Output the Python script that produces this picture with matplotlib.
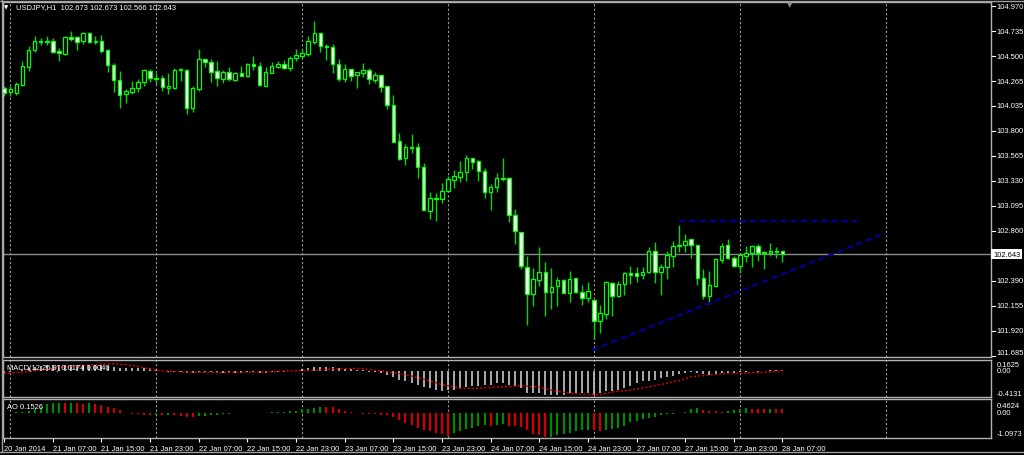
import matplotlib
matplotlib.use("Agg")
import matplotlib.pyplot as plt
import numpy as np
from matplotlib.lines import Line2D
from matplotlib.transforms import blended_transform_factory

plt.rcParams["font.family"] = ["Liberation Sans", "DejaVu Sans"]

# USDJPY H1, 20 Jan 23:00 .. 28 Jan 07:00 (one entry per bar)
opens = [
    104.20, 104.17, 104.16, 104.23, 104.40, 104.56, 104.64, 104.65, 104.65, 104.55,
    104.52, 104.68, 104.68, 104.65, 104.72, 104.64, 104.65, 104.56, 104.42, 104.28,
    104.15, 104.17, 104.20, 104.26, 104.36, 104.30, 104.30, 104.20, 104.20, 104.37,
    104.37, 104.02, 104.19, 104.48, 104.45, 104.36, 104.29, 104.35, 104.28, 104.34,
    104.32, 104.43, 104.41, 104.22, 104.34, 104.40, 104.43, 104.39, 104.49, 104.50,
    104.52, 104.64, 104.72, 104.60, 104.59, 104.43, 104.29, 104.38, 104.33, 104.34,
    104.37, 104.28, 104.33, 104.22, 104.04, 103.71, 103.55, 103.65, 103.65, 103.46,
    103.05, 103.17, 103.16, 103.24, 103.34, 103.37, 103.41, 103.55, 103.52, 103.42,
    103.23, 103.27, 103.36, 103.36, 103.01, 102.85, 102.52, 102.27, 102.40, 102.47,
    102.29, 102.34, 102.40, 102.28, 102.42, 102.29, 102.23, 102.21, 102.01, 102.08,
    102.37, 102.25, 102.36, 102.46, 102.46, 102.45, 102.47, 102.67, 102.47, 102.52,
    102.62, 102.72, 102.73, 102.78, 102.73, 102.42, 102.25, 102.34, 102.59, 102.73,
    102.61, 102.53, 102.62, 102.65, 102.72, 102.65, 102.65, 102.67, 102.673,
]
highs = [
    104.22, 104.22, 104.26, 104.46, 104.60, 104.69, 104.67, 104.69, 104.67, 104.58,
    104.69, 104.74, 104.69, 104.73, 104.73, 104.69, 104.70, 104.57, 104.44, 104.36,
    104.19, 104.27, 104.29, 104.38, 104.38, 104.34, 104.33, 104.34, 104.39, 104.39,
    104.38, 104.22, 104.57, 104.48, 104.48, 104.46, 104.37, 104.40, 104.35, 104.41,
    104.44, 104.50, 104.45, 104.40, 104.45, 104.46, 104.47, 104.50, 104.57, 104.57,
    104.69, 104.83, 104.73, 104.62, 104.62, 104.48, 104.43, 104.38, 104.35, 104.44,
    104.39, 104.35, 104.33, 104.22, 104.14, 103.78, 103.68, 103.77, 103.69, 103.50,
    103.23, 103.22, 103.31, 103.38, 103.43, 103.52, 103.57, 103.55, 103.53, 103.45,
    103.30, 103.40, 103.55, 103.37, 103.07, 102.85, 102.62, 102.51, 102.71, 102.57,
    102.51, 102.43, 102.41, 102.48, 102.42, 102.35, 102.38, 102.22, 102.16, 102.39,
    102.38, 102.39, 102.47, 102.53, 102.52, 102.52, 102.71, 102.76, 102.55, 102.67,
    102.77, 102.92, 102.83, 102.78, 102.73, 102.50, 102.48, 102.61, 102.75, 102.78,
    102.62, 102.64, 102.72, 102.73, 102.74, 102.67, 102.75, 102.71, 102.673,
]
lows = [
    104.13, 104.13, 104.14, 104.22, 104.36, 104.54, 104.61, 104.61, 104.53, 104.46,
    104.51, 104.65, 104.56, 104.62, 104.63, 104.62, 104.53, 104.35, 104.17, 104.02,
    104.06, 104.15, 104.17, 104.22, 104.26, 104.24, 104.18, 104.15, 104.19, 104.27,
    103.96, 103.98, 104.18, 104.40, 104.26, 104.22, 104.25, 104.27, 104.27, 104.32,
    104.31, 104.37, 104.22, 104.22, 104.34, 104.39, 104.38, 104.36, 104.46, 104.49,
    104.50, 104.62, 104.54, 104.47, 104.34, 104.27, 104.26, 104.27, 104.20, 104.31,
    104.24, 104.25, 104.17, 104.01, 103.70, 103.53, 103.48, 103.59, 103.36, 103.06,
    102.97, 102.95, 103.12, 103.23, 103.26, 103.32, 103.33, 103.44, 103.33, 103.17,
    103.06, 103.23, 103.33, 102.94, 102.74, 102.50, 101.98, 102.15, 102.34, 102.06,
    102.13, 102.15, 102.28, 102.19, 102.28, 102.16, 102.19, 101.84, 101.90, 102.03,
    102.06, 102.24, 102.26, 102.36, 102.38, 102.41, 102.46, 102.37, 102.26, 102.41,
    102.52, 102.66, 102.66, 102.61, 102.35, 102.22, 102.17, 102.33, 102.56, 102.60,
    102.52, 102.46, 102.57, 102.52, 102.58, 102.50, 102.62, 102.61, 102.566,
]
closes = [
    104.16, 104.19, 104.24, 104.41, 104.56, 104.65, 104.65, 104.64, 104.54, 104.53,
    104.68, 104.66, 104.64, 104.72, 104.64, 104.65, 104.55, 104.42, 104.28, 104.14,
    104.18, 104.20, 104.26, 104.37, 104.30, 104.29, 104.21, 104.22, 104.37, 104.38,
    104.02, 104.20, 104.48, 104.45, 104.35, 104.30, 104.35, 104.29, 104.34, 104.32,
    104.43, 104.41, 104.23, 104.35, 104.41, 104.43, 104.39, 104.49, 104.51, 104.53,
    104.65, 104.72, 104.60, 104.59, 104.43, 104.29, 104.38, 104.32, 104.35, 104.37,
    104.29, 104.33, 104.21, 104.04, 103.70, 103.54, 103.65, 103.64, 103.46, 103.06,
    103.17, 103.16, 103.24, 103.35, 103.38, 103.41, 103.55, 103.51, 103.42, 103.23,
    103.27, 103.36, 103.35, 103.01, 102.86, 102.53, 102.27, 102.41, 102.47, 102.29,
    102.33, 102.40, 102.28, 102.41, 102.29, 102.23, 102.30, 102.01, 102.09, 102.38,
    102.25, 102.36, 102.46, 102.45, 102.44, 102.47, 102.67, 102.47, 102.52, 102.63,
    102.72, 102.73, 102.77, 102.73, 102.42, 102.25, 102.35, 102.60, 102.72, 102.61,
    102.53, 102.63, 102.65, 102.72, 102.65, 102.66, 102.67, 102.66, 102.643,
]

# MACD(12,26,9) main values, one per bar
macd = [
    -0.03, -0.02, 0.00, 0.02, 0.04, 0.06, 0.08, 0.09, 0.10, 0.10,
    0.10, 0.10, 0.10, 0.10, 0.10, 0.10, 0.09, 0.08, 0.07, 0.05,
    0.04, 0.04, 0.04, 0.05, 0.04, 0.02, 0.00, -0.01, -0.01, -0.01,
    -0.03, -0.03, -0.01, -0.01, -0.02, -0.03, -0.03, -0.03, -0.03, -0.03,
    -0.02, -0.02, -0.03, -0.03, -0.02, -0.01, -0.01, 0.00, 0.01, 0.03,
    0.04, 0.07, 0.07, 0.07, 0.06, 0.04, 0.03, 0.03, 0.02, 0.01,
    -0.01, -0.02, -0.03, -0.06, -0.10, -0.14, -0.16, -0.20, -0.23, -0.26,
    -0.28, -0.30, -0.32, -0.30, -0.30, -0.28, -0.26, -0.25, -0.24, -0.23,
    -0.22, -0.20, -0.20, -0.22, -0.24, -0.28, -0.35, -0.36, -0.36, -0.39,
    -0.39, -0.39, -0.38, -0.36, -0.36, -0.35, -0.35, -0.39, -0.35, -0.33,
    -0.32, -0.30, -0.27, -0.24, -0.20, -0.17, -0.16, -0.14, -0.12, -0.10,
    -0.08, -0.05, -0.03, -0.026, -0.04, -0.05, -0.067, -0.05, -0.03, -0.03,
    -0.03, -0.02, -0.01, 0.00, -0.01, 0.00, 0.01, 0.01, 0.0174,
]
# signal line, read at a subset of bars
signal_idx = [0, 4, 8, 12, 16, 18, 20, 22, 24, 26, 30, 36, 42, 47, 50, 53, 56, 59,
              61, 64, 67, 70, 72, 75, 78, 81, 85, 88, 90, 93, 96, 98, 100, 103,
              105, 108, 111, 113, 116, 119, 123, 126, 128]
signal_vals = [-0.04, -0.01, 0.04, 0.08, 0.11, 0.115, 0.10, 0.07, 0.03, 0.00,
               -0.02, -0.025, -0.02, 0.00, 0.01, 0.026, 0.036, 0.036, 0.01,
               -0.026, -0.083, -0.16, -0.22, -0.28, -0.28, -0.26, -0.24, -0.26,
               -0.31, -0.36, -0.38, -0.38, -0.34, -0.31, -0.275, -0.22, -0.156,
               -0.093, -0.067, -0.04, -0.03, -0.016, 0.004]

# Awesome Oscillator
ao = [
    0.00, 0.01, 0.03, 0.05, 0.08, 0.15, 0.26, 0.40, 0.44, 0.46,
    0.43, 0.44, 0.42, 0.41, 0.43, 0.40, 0.33, 0.28, 0.21, 0.13,
    0.01, -0.05, -0.07, -0.08, -0.085, -0.08, -0.09, -0.085, -0.10, -0.13,
    -0.17, -0.20, -0.16, -0.13, -0.10, -0.08, -0.06, -0.04, -0.03, -0.02,
    -0.015, -0.02, -0.01, 0.01, 0.03, 0.035, 0.04, 0.06, 0.10, 0.18,
    0.185, 0.21, 0.26, 0.255, 0.25, 0.18, 0.10, 0.03, 0.01, -0.04,
    -0.07, -0.075, -0.08, -0.09, -0.20, -0.35, -0.47, -0.57, -0.68, -0.77,
    -0.83, -0.92, -0.98, -1.05, -0.92, -0.83, -0.72, -0.68, -0.60, -0.57,
    -0.60, -0.57, -0.53, -0.60, -0.61, -0.63, -0.80, -0.95, -1.02, -1.0973,
    -1.09, -1.02, -0.95, -0.92, -0.83, -0.80, -0.77, -0.80, -0.81, -0.77,
    -0.72, -0.68, -0.60, -0.42, -0.38, -0.27, -0.22, -0.17, -0.12, -0.075,
    -0.045, -0.03, 0.05, 0.18, 0.21, 0.135, 0.075, 0.06, 0.03, 0.06,
    0.105, 0.18, 0.21, 0.18, 0.17, 0.15, 0.18, 0.17, 0.1526,
]

time_labels = ["20 Jan 2014", "21 Jan 07:00", "21 Jan 15:00", "21 Jan 23:00",
               "22 Jan 07:00", "22 Jan 15:00", "22 Jan 23:00", "23 Jan 07:00",
               "23 Jan 15:00", "23 Jan 23:00", "24 Jan 07:00", "24 Jan 15:00",
               "24 Jan 23:00", "27 Jan 07:00", "27 Jan 15:00", "27 Jan 23:00",
               "28 Jan 07:00"]
time_label_idx = list(range(0, 129, 8))
day_separators = [1, 25, 49, 73, 97, 121, 145]

price_ticks = [104.970, 104.735, 104.500, 104.265, 104.035, 103.800, 103.565,
               103.330, 103.095, 102.860, 102.390, 102.155, 101.920, 101.685]
last_price = 102.643

# hand-drawn trend lines (bar index, price)
resist_x, resist_y = [111, 140.3], [102.95, 102.95]
support_x, support_y = [96.7, 144.9], [101.74, 102.84]

W, H = 1024, 456
LIME = "#00ff00"
FRAME = "#b4b4b4"
TXT = dict(color="white", fontsize=5.4)

fig = plt.figure(figsize=(W / 100, H / 100), dpi=100, facecolor="black")


def pane(top, bottom):
    a = fig.add_axes([3 / W, 1 - bottom / H, 988 / W, (bottom - top) / H])
    a.set_facecolor("black")
    for s in a.spines.values():
        s.set_color(FRAME)
        s.set_linewidth(1.0)
    a.set_xticks([])
    a.set_yticks([])
    a.set_xlim(-0.2, 162.3)
    for d in day_separators:
        a.axvline(d, color="#9a9a9a", lw=0.8, ls=(0, (2, 2)), zorder=0.5)
    return a


ax = pane(3, 358)
ax_macd = pane(361, 398)
ax_ao = pane(400, 439)

# candles
x = np.arange(len(opens))
o, h, l, c = (np.array(v) for v in (opens, highs, lows, closes))
bull = c >= o
ax.vlines(x, l, h, color="#00d800", lw=1.0, zorder=2)
bot = np.minimum(o, c)
hgt = np.abs(c - o)
ax.bar(x[bull], hgt[bull], bottom=bot[bull], width=0.58, facecolor="black",
       edgecolor=LIME, lw=0.9, zorder=3)
ax.bar(x[~bull], hgt[~bull], bottom=bot[~bull], width=0.58, facecolor="white",
       edgecolor=LIME, lw=0.9, zorder=3)
ax.set_ylim(101.675, 105.012)

ax.axhline(last_price, color="#8c8c8c", lw=1.0, zorder=1)
ax.plot(resist_x, resist_y, color="#000090", lw=1.7, ls=(0, (2.7, 1.6)), zorder=4)
ax.plot(support_x, support_y, color="#000090", lw=1.7, ls=(0, (2.7, 1.6)), zorder=4)

tr = blended_transform_factory(ax.transAxes, ax.transData)
for p in price_ticks:
    ax.plot([1.0, 1.004], [p, p], transform=tr, color="white", lw=0.8, clip_on=False)
    va = "bottom" if p == price_ticks[-1] else "center"
    ax.text(1.006, p, f"{p:.3f}", transform=tr, va=va, ha="left", clip_on=False, **TXT)
ax.text(1.002, last_price, f"{last_price:.3f}", transform=tr, va="center", ha="left",
        color="black", fontsize=5.4, clip_on=False,
        bbox=dict(facecolor="white", edgecolor="none", pad=1.2))

# MACD pane
ax_macd.vlines(x, 0, macd, color="#c8c8c8", lw=1.2, zorder=2)
ax_macd.plot(signal_idx, signal_vals, color="#e00000", lw=1.0, ls=(0, (1.5, 1.5)), zorder=3)
ax_macd.set_ylim(-0.42, 0.175)
ax_macd.text(0.004, 0.81, f"MACD(12,26,9) {macd[-1]:.4f} {signal_vals[-1]:.4f}",
             transform=ax_macd.transAxes, va="center", ha="left", zorder=5, **TXT)
tr = blended_transform_factory(ax_macd.transAxes, ax_macd.transData)
for v, va, lab in [(0.1625, "top", "0.1625"), (0.0, "center", "0.00"),
                   (-0.4131, "bottom", "-0.4131")]:
    ax_macd.text(1.006, v, lab, transform=tr, va=va, ha="left", clip_on=False, **TXT)

# AO pane
ao_arr = np.array(ao)
rising = np.r_[True, ao_arr[1:] > ao_arr[:-1]]
ax_ao.vlines(x, 0, ao_arr, colors=np.where(rising, "#008a00", "#d00000"), lw=1.6, zorder=2)
ax_ao.set_ylim(-1.14, 0.62)
ax_ao.text(0.004, 0.795, f"AO {ao[-1]:.4f}", transform=ax_ao.transAxes,
           va="center", ha="left", zorder=5, **TXT)
tr = blended_transform_factory(ax_ao.transAxes, ax_ao.transData)
for v, va, lab in [(0.4624, "top", "0.4624"), (0.0, "center", "0.00"),
                   (-1.0973, "bottom", "-1.0973")]:
    ax_ao.text(1.006, v, lab, transform=tr, va=va, ha="left", clip_on=False, **TXT)

ax_ao.set_xticks(time_label_idx)
ax_ao.set_xticklabels(time_labels, ha="left")
ax_ao.tick_params(axis="x", colors="white", length=3, width=0.8, labelsize=5.4, pad=2)

# header and markers
fig.text(16 / W, 1 - 8 / H, "USDJPY,H1  102.673 102.673 102.566 102.643",
         va="center", ha="left", **TXT)
fig.text(6.5 / W, 1 - 8 / H, "\u25bc", color="white", fontsize=4, va="center",
         ha="center", family="DejaVu Sans")
fig.text(790 / W, 1 - 5 / H, "\u25bc", color="#8c8c8c", fontsize=5, va="center",
         ha="center", family="DejaVu Sans")

# outer frame
for xs, ys in [([0, 1], [1 - 1.5 / H] * 2), ([1.5 / W] * 2, [1 - 453 / H, 1]),
               ([0, 1], [1 - 453 / H] * 2)]:
    fig.add_artist(Line2D(xs, ys, transform=fig.transFigure, color="#a0a0a0", lw=1.0))

fig.savefig("out.png", dpi=100, facecolor="black")
